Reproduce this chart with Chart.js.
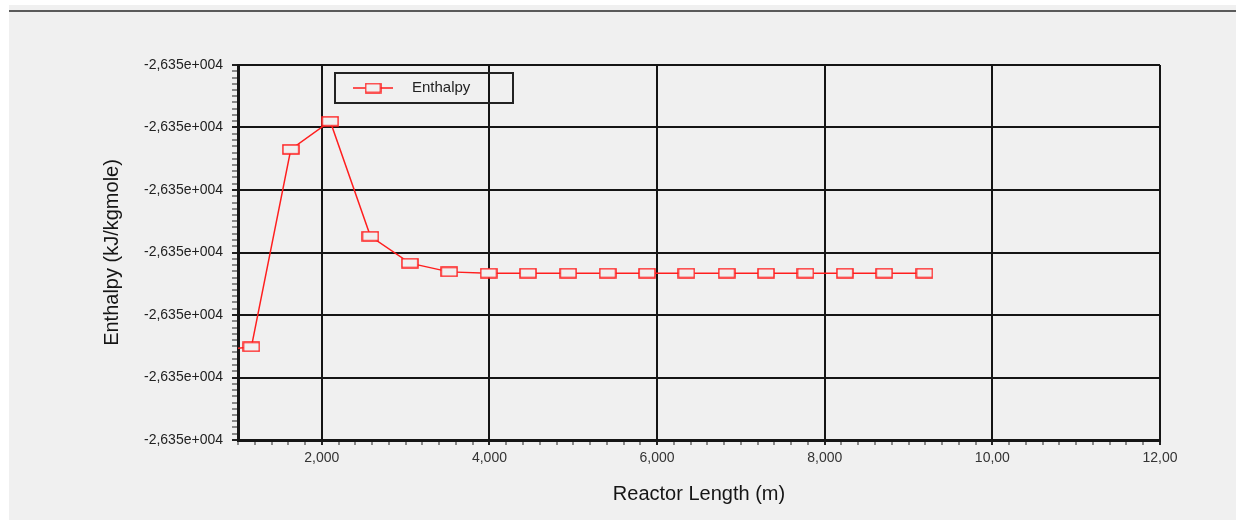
<!DOCTYPE html>
<html>
<head>
<meta charset="utf-8">
<script src="https://cdn.jsdelivr.net/npm/chart.js@4.4.1/dist/chart.umd.min.js"></script>
<style>
  html, body { margin: 0; padding: 0; background: #fff; }
  body { width: 1236px; height: 520px; position: relative; overflow: hidden; }
  #panel { position: absolute; left: 9px; top: 5px; right: 0; bottom: 0; background: #f0f0f0; }
  #rule  { position: absolute; left: 9px; right: 0; top: 10px; height: 2px; background: #5a5a5a; }
  #wrap  { position: absolute; left: 0; top: 0; width: 1236px; height: 520px; }
</style>
</head>
<body>
<div id="panel"></div>
<div id="rule"></div>
<div id="wrap"><canvas id="chart" width="1236" height="520"></canvas></div>
<script>
/* Enthalpy profile along the reactor */

// reactor length, m (first point sits just left of the axis, only its line shows)
const lengthsM = [0.69, 1.16, 1.63, 2.10, 2.58, 3.05, 3.52, 3.99, 4.46, 4.94,
                  5.41, 5.88, 6.35, 6.83, 7.30, 7.77, 8.24, 8.71, 9.19];

// enthalpy, kJ/kgmole
const enthalpy = [-26350.57, -26350.51, -26347.35, -26346.90, -26348.74, -26349.17,
                  -26349.31, -26349.33, -26349.33, -26349.33, -26349.33, -26349.33,
                  -26349.33, -26349.33, -26349.33, -26349.33, -26349.33, -26349.33,
                  -26349.33];

const seriesLabel = 'Enthalpy';

// axis ranges and tick labels
const xMin = 1, xMax = 12;
const xTickValues = [2, 4, 6, 8, 10, 12];
const xTickLabels = ['2,000', '4,000', '6,000', '8,000', '10,00', '12,00'];

const yMin = -26352, yMax = -26346;
const yTickLabels = ['-2,635e+004', '-2,635e+004', '-2,635e+004', '-2,635e+004',
                     '-2,635e+004', '-2,635e+004', '-2,635e+004'];

const RED  = '#ff1e1e';
const INK  = '#151515';
const BG   = '#f0f0f0';
const FONT = '"Liberation Sans", Arial, sans-serif';

// hollow rectangular marker, wider than tall
function makeMarker(w, h) {
  const c = document.createElement('canvas');
  c.width = w + 2;
  c.height = h + 2;
  const g = c.getContext('2d');
  g.fillStyle = BG;
  g.fillRect(1, 1, w, h);
  g.strokeStyle = RED;
  g.lineWidth = 1.5;
  g.strokeRect(1, 1, w, h);
  return c;
}
const marker = makeMarker(16, 9);
const legendMarker = makeMarker(15, 9);

const isWhole = v => Math.abs(v - Math.round(v)) < 1e-6;
const isXMajor = v => xTickValues.some(t => Math.abs(t - v) < 1e-6);

// legend drawn as a framed box inside the plot
const legendBox = {
  id: 'legendBox',
  afterDatasetsDraw(chart) {
    const { ctx, chartArea } = chart;
    const ds = chart.data.datasets[0];
    const x = chartArea.left + 97;
    const y = chartArea.top + 8;
    const w = 178, h = 30;
    const cy = y + h / 2;
    ctx.save();
    ctx.strokeStyle = '#222';
    ctx.lineWidth = 2;
    ctx.strokeRect(x, y, w, h);

    ctx.strokeStyle = ds.borderColor;
    ctx.lineWidth = 1.5;
    ctx.beginPath();
    ctx.moveTo(x + 18, cy);
    ctx.lineTo(x + 58, cy);
    ctx.stroke();
    ctx.drawImage(legendMarker, x + 38 - legendMarker.width / 2, cy - legendMarker.height / 2);

    ctx.fillStyle = '#222';
    ctx.font = '15px ' + FONT;
    ctx.textBaseline = 'middle';
    ctx.fillText(ds.label, x + 77, cy);
    ctx.restore();
  }
};

new Chart(document.getElementById('chart'), {
  type: 'line',
  data: {
    datasets: [{
      label: seriesLabel,
      data: lengthsM.map((x, i) => ({ x, y: enthalpy[i] })),
      borderColor: RED,
      backgroundColor: RED,
      borderWidth: 1.5,
      tension: 0,
      pointStyle: marker,
      pointRadius: 8,
      pointHoverRadius: 8,
    }],
  },
  options: {
    responsive: false,
    animation: false,
    layout: { padding: { left: 100, right: 76, top: 65, bottom: 0 } },
    plugins: {
      legend: { display: false },
      tooltip: { enabled: false },
    },
    scales: {
      x: {
        type: 'linear',
        min: xMin,
        max: xMax,
        afterFit: s => { s.height = 80; },
        border: { color: INK, width: 3 },
        grid: {
          color: c => isXMajor(c.tick.value) ? INK : 'rgba(0,0,0,0)',
          lineWidth: 2,
          tickLength: 5,
          tickColor: '#222',
          tickWidth: c => isXMajor(c.tick.value) ? 2 : 1,
        },
        ticks: {
          stepSize: 0.2,
          autoSkip: false,
          maxRotation: 0,
          padding: 5,
          color: '#333',
          font: { family: FONT, size: 14 },
          callback: v => {
            const i = xTickValues.findIndex(t => Math.abs(t - v) < 1e-6);
            return i >= 0 ? xTickLabels[i] : '';
          },
        },
        title: {
          display: true,
          text: 'Reactor Length (m)',
          color: INK,
          font: { family: FONT, size: 20 },
          padding: { top: 0, bottom: 14 },
        },
      },
      y: {
        min: yMin,
        max: yMax,
        afterFit: s => { s.width = 138; },
        border: { color: INK, width: 3 },
        grid: {
          color: c => isWhole(c.tick.value) ? INK : 'rgba(0,0,0,0)',
          lineWidth: 2,
          tickLength: 6,
          tickColor: '#222',
          tickWidth: c => isWhole(c.tick.value) ? 2 : 1,
        },
        ticks: {
          stepSize: 0.1,
          autoSkip: false,
          padding: 9,
          color: '#222',
          font: { family: FONT, size: 14 },
          callback: v => isWhole(v) ? yTickLabels[Math.round(v - yMin)] : '',
        },
        title: {
          display: true,
          text: 'Enthalpy (kJ/kgmole)',
          color: INK,
          font: { family: FONT, size: 20 },
          padding: { top: 0, bottom: 0 },
        },
      },
    },
  },
  plugins: [legendBox],
});
</script>
</body>
</html>
